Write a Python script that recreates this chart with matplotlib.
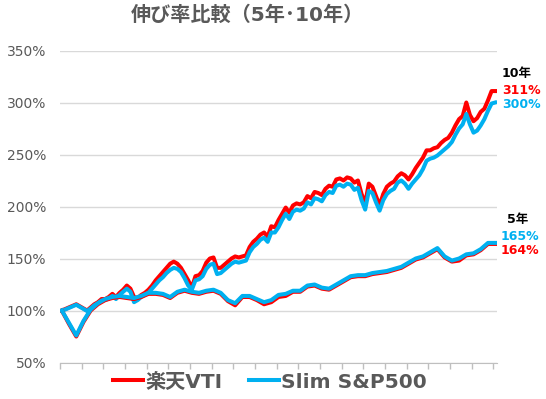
import matplotlib.pyplot as plt
import numpy as np

plt.rcParams['font.family'] = ['DejaVu Sans', 'Noto Sans CJK JP']

# 10-year growth (monthly, 121 points), percent of start
vti_10 = [100, 101.5, 103, 104.5, 106, 104, 102, 100, 103, 106,
          108, 111, 111, 113, 116, 113, 117, 120, 124, 121,
          113, 112, 115, 117, 120, 124, 129, 133, 137, 141,
          145, 147, 145, 141, 135, 129, 122, 133, 134, 138,
          146, 150, 151, 141, 141, 144, 147, 150, 152, 151,
          152, 153, 161, 166, 169, 173, 175, 171, 181, 180,
          187, 193, 199, 194, 201, 203, 202, 204, 210, 208,
          214, 213, 211, 217, 220, 219, 226, 227, 225, 228,
          227, 223, 225, 212, 203, 222, 219, 210, 201, 212,
          219, 222, 224, 229, 232, 230, 226, 231, 237, 242,
          247, 254, 254, 256, 257, 261, 264, 266, 271, 278,
          284, 287, 300, 288, 282, 285, 291, 294, 302, 311,
          311]
slim_10 = [100, 101, 102.5, 104, 105.5, 103.5, 101.5, 99.5, 102, 105,
           107, 109.5, 110, 111.5, 114, 111, 115, 118, 121, 118,
           108, 110, 113, 115, 117, 121, 125, 129, 132, 136,
           139, 141, 140, 137, 131, 124, 120, 129, 130, 133,
           140, 144, 145, 135, 136, 139, 142, 145, 147, 146,
           147, 148, 156, 161, 164, 168, 170, 166, 175, 175,
           180, 187, 193, 188, 195, 197, 196, 198, 204, 202,
           208, 207, 205, 211, 214, 213, 220, 221, 219, 222,
           221, 216, 218, 206, 197, 215, 213, 204, 196, 206,
           212, 215, 217, 223, 225, 222, 217, 222, 226, 230,
           236, 244, 246, 247, 249, 252, 255, 258, 262, 269,
           275, 279, 289, 279, 271, 273, 278, 284, 292, 299,
           300]

# 5-year growth (monthly, 61 points)
vti_5 = [100, 87, 75, 89, 100, 106, 110, 112, 113, 112,
         111, 113, 116, 116, 115, 112, 117, 119, 117, 116,
         118, 119, 116, 109, 105, 113, 113, 110, 106, 108,
         113, 114, 118, 118, 123, 124, 121, 120, 124, 128,
         132, 133, 133, 135, 136, 137, 139, 141, 145, 149,
         151, 155, 159, 151, 147, 148, 153, 154, 158, 164,
         164]
slim_5 = [100, 88, 76, 90, 101, 107, 111, 113, 114, 113,
          112, 114, 117, 117, 116, 113, 118, 120, 118, 117,
          119, 120, 117, 110, 107, 114, 114, 111, 108, 110,
          115, 116, 119, 119, 124, 125, 122, 121, 125, 129,
          133, 134, 134, 136, 137, 138, 140, 142, 146, 150,
          152, 156, 160, 152, 148, 150, 154, 155, 159, 165,
          165]

yticks = [50, 100, 150, 200, 250, 300, 350]
red = '#FF0000'
blue = '#00B0F0'
gray = '#595959'

x10 = np.arange(len(vti_10))
x5 = np.arange(len(vti_5)) * 2


def fy(py):
    # pixel row (from top) -> figure fraction
    return 1 - py / 399


fig = plt.figure(figsize=(5.46, 3.99), dpi=100)
ax = fig.add_axes([60 / 546, fy(362.5), 437 / 546, 312 / 399])

lw = 2.9
ax.plot(x10, vti_10, color=red, lw=lw, label='楽天VTI', solid_joinstyle='round')
ax.plot(x10, slim_10, color=blue, lw=lw, label='Slim S&P500', solid_joinstyle='round')
ax.plot(x5, vti_5, color=red, lw=lw, solid_joinstyle='round')
ax.plot(x5, slim_5, color=blue, lw=lw, solid_joinstyle='round')

ax.set_xlim(-0.5, 120.5)
ax.set_ylim(50, 350)
ax.set_yticks(yticks)
ax.set_yticklabels([f'{v}%' for v in yticks], color=gray, fontsize=10)
ax.yaxis.grid(True, color='#D9D9D9', lw=1)
ax.set_axisbelow(True)
ax.tick_params(axis='y', length=0, pad=10)
ax.set_xticks(np.arange(-0.5, 121, 6))
ax.set_xticklabels([])
ax.tick_params(axis='x', length=4, color='#BFBFBF', width=1)
for s in ['top', 'right', 'left']:
    ax.spines[s].set_visible(False)
ax.spines['bottom'].set_color('#BFBFBF')

# end labels
fig.text(517 / 546, fy(74), '10年', color='black', fontsize=9,
         fontweight='bold', ha='center', va='center')
fig.text(502 / 546, fy(91), '311%', color=red, fontsize=9,
         fontweight='bold', ha='left', va='center')
fig.text(502 / 546, fy(104), '300%', color=blue, fontsize=9,
         fontweight='bold', ha='left', va='center')
fig.text(518 / 546, fy(220), '5年', color='black', fontsize=9,
         fontweight='bold', ha='center', va='center')
fig.text(501 / 546, fy(237), '165%', color=blue, fontsize=9,
         fontweight='bold', ha='left', va='center')
fig.text(501 / 546, fy(251), '164%', color=red, fontsize=9,
         fontweight='bold', ha='left', va='center')

fig.text(247 / 546, fy(15), '伸び率比較（5年･10年）', color=gray,
         fontsize=14.5, fontweight='bold', ha='center', va='center')

fig.legend(loc='center', bbox_to_anchor=(270 / 546, fy(382)),
           ncol=2, frameon=False, handlelength=1.5, handletextpad=0.1,
           columnspacing=1.3, prop={'size': 14.5, 'weight': 'bold'},
           labelcolor=gray)

fig.savefig('out.png', dpi=100)
